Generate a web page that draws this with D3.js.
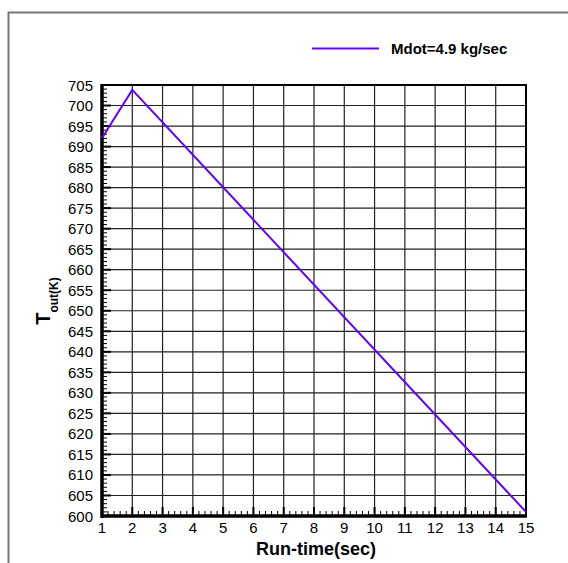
<!DOCTYPE html>
<html><head><meta charset="utf-8">
<script src="https://cdn.jsdelivr.net/npm/d3@7"></script>
<style>body{margin:0;background:#fff}svg{display:block;font-family:"Liberation Sans",Arial,sans-serif}</style>
</head><body><svg id="c" width="568" height="563"></svg>
<script>
const times = [1, 2, 15];
const tout = [692.1, 703.8, 601];
const seriesName = "Mdot=4.9 kg/sec";
const xTicks = d3.range(1, 16, 1);
const yTicks = d3.range(600, 706, 5);

const svg = d3.select("#c");
const L = 102, R = 526, T = 85, B = 516;
const x = d3.scaleLinear().domain([1, 15]).range([L, R]);
const y = d3.scaleLinear().domain([600, 705]).range([B, T]);

// outer frame
svg.append("path").attr("d", "M8.5,563 V12.5 H568").attr("fill", "none").attr("stroke", "#777").attr("stroke-width", 2);

// grid
const g = svg.append("g");
g.selectAll(".vg").data(xTicks).join("line")
  .attr("x1", d => x(d)).attr("x2", d => x(d)).attr("y1", T).attr("y2", B)
  .attr("stroke", "#222").attr("stroke-width", 1.2);
g.selectAll(".hg").data(yTicks).join("line")
  .attr("x1", L).attr("x2", R).attr("y1", d => y(d)).attr("y2", d => y(d))
  .attr("stroke", "#222").attr("stroke-width", 1.2);

// minor ticks
const yMinor = d3.range(600, 705.01, 1).filter(v => v % 5 !== 0);
g.selectAll(".ym").data(yMinor).join("line")
  .attr("x1", L).attr("x2", L + 5).attr("y1", d => y(d)).attr("y2", d => y(d))
  .attr("stroke", "#000").attr("stroke-width", 1);
g.selectAll(".yM").data(yTicks).join("line")
  .attr("x1", L).attr("x2", L + 9).attr("y1", d => y(d)).attr("y2", d => y(d))
  .attr("stroke", "#000").attr("stroke-width", 2);
const xMinor = d3.range(1, 15.001, 0.2).filter(v => Math.abs(v - Math.round(v)) > 0.01);
g.selectAll(".xm").data(xMinor).join("line")
  .attr("x1", d => x(d)).attr("x2", d => x(d)).attr("y1", B).attr("y2", B - 5)
  .attr("stroke", "#000").attr("stroke-width", 1);
g.selectAll(".xM").data(xTicks).join("line")
  .attr("x1", d => x(d)).attr("x2", d => x(d)).attr("y1", B).attr("y2", B - 9)
  .attr("stroke", "#000").attr("stroke-width", 2);

// frame of plot
svg.append("rect").attr("x", L).attr("y", T).attr("width", R - L).attr("height", B - T)
  .attr("fill", "none").attr("stroke", "#000").attr("stroke-width", 2);
svg.append("line").attr("x1", L).attr("x2", L).attr("y1", T - 1).attr("y2", B + 2).attr("stroke", "#000").attr("stroke-width", 3.5);
svg.append("line").attr("x1", L - 1).attr("x2", R + 1).attr("y1", B).attr("y2", B).attr("stroke", "#000").attr("stroke-width", 3.5);

// tick labels
svg.selectAll(".yl").data(yTicks).join("text")
  .attr("x", L - 9).attr("y", d => y(d) + 5.5).attr("text-anchor", "end")
  .attr("font-size", 15).attr("fill", "#000").text(d => d);
svg.selectAll(".xl").data(xTicks).join("text")
  .attr("x", d => x(d)).attr("y", 533).attr("text-anchor", "middle")
  .attr("font-size", 15).attr("fill", "#000").text(d => d);

// axis titles
svg.append("text").attr("x", 316).attr("y", 555).attr("text-anchor", "middle")
  .attr("font-size", 18).attr("font-weight", "bold").text("Run-time(sec)");
const yt = svg.append("text").attr("transform", "translate(50,301) rotate(-90)")
  .attr("text-anchor", "middle").attr("font-weight", "bold");
yt.append("tspan").attr("font-size", 20).text("T");
yt.append("tspan").attr("font-size", 12).attr("dy", 7.5).text("out(K)");

// data line
const pts = times.map((t, i) => [t, tout[i]]);
svg.append("path").datum(pts)
  .attr("d", d3.line().x(d => x(d[0])).y(d => y(d[1])))
  .attr("fill", "none").attr("stroke", "#6400ff").attr("stroke-width", 2);

// legend
svg.append("line").attr("x1", 312).attr("x2", 379).attr("y1", 48.5).attr("y2", 48.5)
  .attr("stroke", "#6400ff").attr("stroke-width", 2.2);
svg.append("text").attr("x", 391).attr("y", 54).attr("font-size", 15).attr("font-weight", "bold").text(seriesName);
</script></body></html>
